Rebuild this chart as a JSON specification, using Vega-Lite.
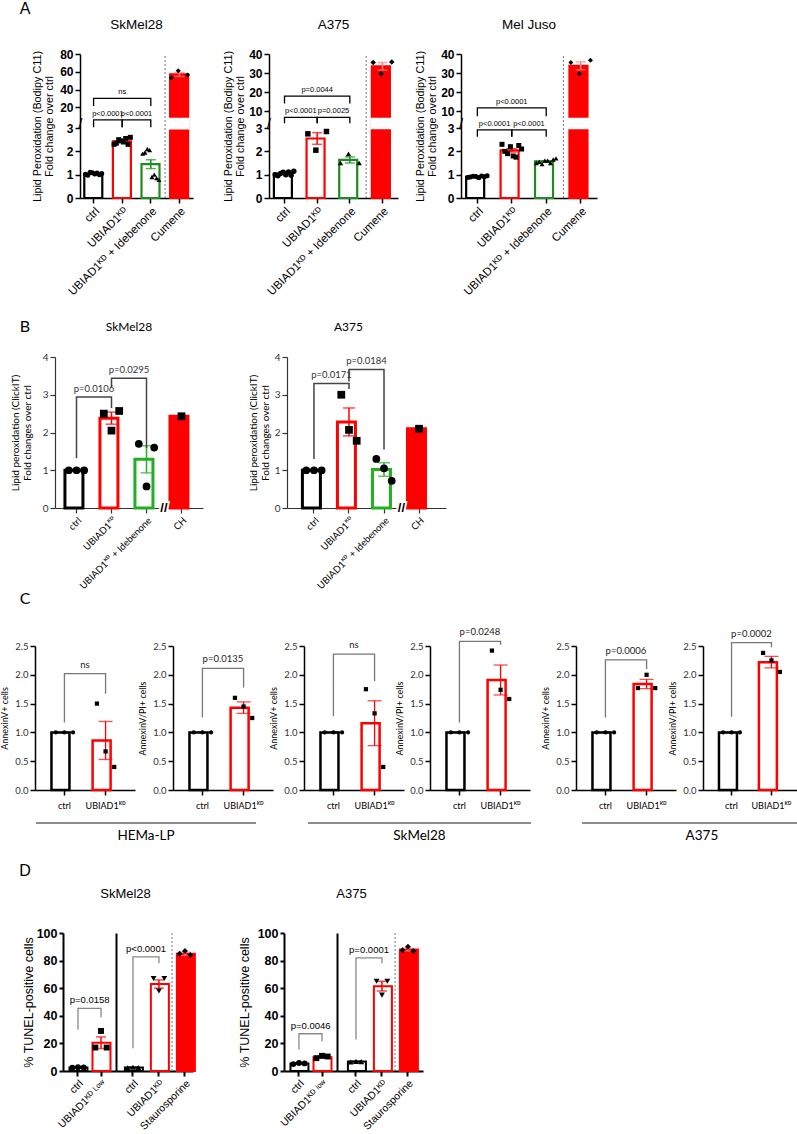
{
"$schema":"https://vega.github.io/schema/vega-lite/v6.json",
"background":"#ffffff",
"padding":0,
"autosize":{"type":"pad"},
"config":{"view":{"stroke":null},"axis":{"grid":false,"labelOverlap":false},"font":"Liberation Sans"},
"datasets":{
"bars":[
{"p":"A1","g":"ctrl","m":1.04,"se":0.02},{"p":"A1","g":"KD","m":2.43,"se":0.04},{"p":"A1","g":"Ide","m":1.45,"se":0.19},{"p":"A1","g":"Cum","m":57,"se":2.3},
{"p":"A2","g":"ctrl","m":1.05,"se":0.03},{"p":"A2","g":"KD","m":2.55,"se":0.25},{"p":"A2","g":"Ide","m":1.63,"se":0.13},{"p":"A2","g":"Cum","m":33.5,"se":2.0},
{"p":"A3","g":"ctrl","m":0.91,"se":0.02},{"p":"A3","g":"KD","m":2.04,"se":0.07},{"p":"A3","g":"Ide","m":1.57,"se":0.03},{"p":"A3","g":"Cum","m":33.8,"se":2.1},
{"p":"B1","g":"ctrl","m":1.0,"se":0},{"p":"B1","g":"KD","m":2.38,"se":0.16},{"p":"B1","g":"Ide","m":1.29,"se":0.36},{"p":"B1","g":"CH","m":2.43,"se":0},
{"p":"B2","g":"ctrl","m":1.0,"se":0},{"p":"B2","g":"KD","m":2.28,"se":0.37},{"p":"B2","g":"Ide","m":1.02,"se":0.18},{"p":"B2","g":"CH","m":2.1,"se":0},
{"p":"C1","g":"ctrl","m":1.0,"se":0},{"p":"C1","g":"KD","m":0.86,"se":0.33},
{"p":"C2","g":"ctrl","m":1.0,"se":0},{"p":"C2","g":"KD","m":1.43,"se":0.1},
{"p":"C3","g":"ctrl","m":1.0,"se":0},{"p":"C3","g":"KD","m":1.16,"se":0.39},
{"p":"C4","g":"ctrl","m":1.0,"se":0},{"p":"C4","g":"KD","m":1.91,"se":0.26},
{"p":"C5","g":"ctrl","m":1.0,"se":0},{"p":"C5","g":"KD","m":1.84,"se":0.08},
{"p":"C6","g":"ctrl","m":1.0,"se":0},{"p":"C6","g":"KD","m":2.22,"se":0.1},
{"p":"D1L","g":"ctrl","m":2.5,"se":0.3},{"p":"D1L","g":"KDlow","m":20.5,"se":4.2},
{"p":"D1R","g":"ctrl","m":2.5,"se":0.3},{"p":"D1R","g":"KD","m":63,"se":3},{"p":"D1R","g":"Stau","m":85,"se":1.2},
{"p":"D2L","g":"ctrl","m":5.5,"se":0.3},{"p":"D2L","g":"KDlow","m":10,"se":0.6},
{"p":"D2R","g":"ctrl","m":6.8,"se":0.3},{"p":"D2R","g":"KD","m":61.5,"se":3.5},{"p":"D2R","g":"Stau","m":88,"se":0.9}
],
"pts":[
{"p":"A1","g":"ctrl","r":1,"v":1.02},{"p":"A1","g":"ctrl","r":2,"v":1.08},{"p":"A1","g":"ctrl","r":3,"v":1.05},{"p":"A1","g":"ctrl","r":4,"v":0.98},{"p":"A1","g":"ctrl","r":5,"v":1.1},{"p":"A1","g":"ctrl","r":6,"v":1.03},{"p":"A1","g":"ctrl","r":7,"v":1.07},{"p":"A1","g":"ctrl","r":8,"v":1.0},
{"p":"A1","g":"KD","r":1,"v":2.3},{"p":"A1","g":"KD","r":2,"v":2.45},{"p":"A1","g":"KD","r":3,"v":2.6},{"p":"A1","g":"KD","r":4,"v":2.35},{"p":"A1","g":"KD","r":5,"v":2.5},{"p":"A1","g":"KD","r":6,"v":2.4},{"p":"A1","g":"KD","r":7,"v":2.55},{"p":"A1","g":"KD","r":8,"v":2.3},
{"p":"A1","g":"Ide","r":1,"v":1.9},{"p":"A1","g":"Ide","r":2,"v":2.05},{"p":"A1","g":"Ide","r":3,"v":0.78},{"p":"A1","g":"Ide","r":4,"v":1.95},{"p":"A1","g":"Ide","r":5,"v":2.1},{"p":"A1","g":"Ide","r":6,"v":0.9},{"p":"A1","g":"Ide","r":7,"v":1.0},{"p":"A1","g":"Ide","r":8,"v":0.85},
{"p":"A1","g":"Cum","r":1,"v":53.3},{"p":"A1","g":"Cum","r":2,"v":61.2},{"p":"A1","g":"Cum","r":3,"v":56.4},
{"p":"A2","g":"ctrl","r":1,"v":1.0},{"p":"A2","g":"ctrl","r":2,"v":1.1},{"p":"A2","g":"ctrl","r":3,"v":1.15},{"p":"A2","g":"ctrl","r":4,"v":0.95},{"p":"A2","g":"ctrl","r":5,"v":1.05},{"p":"A2","g":"ctrl","r":6,"v":1.0},{"p":"A2","g":"ctrl","r":7,"v":1.12},{"p":"A2","g":"ctrl","r":8,"v":0.98},
{"p":"A2","g":"KD","r":1,"v":2.75},{"p":"A2","g":"KD","r":2,"v":2.05},{"p":"A2","g":"KD","r":3,"v":2.85},
{"p":"A2","g":"Ide","r":1,"v":1.5},{"p":"A2","g":"Ide","r":2,"v":1.89},{"p":"A2","g":"Ide","r":3,"v":1.5},
{"p":"A2","g":"Cum","r":1,"v":35.5},{"p":"A2","g":"Cum","r":2,"v":29.6},{"p":"A2","g":"Cum","r":3,"v":35.8},
{"p":"A3","g":"ctrl","r":1,"v":0.88},{"p":"A3","g":"ctrl","r":2,"v":0.92},{"p":"A3","g":"ctrl","r":3,"v":0.95},{"p":"A3","g":"ctrl","r":4,"v":0.9},{"p":"A3","g":"ctrl","r":5,"v":0.93},{"p":"A3","g":"ctrl","r":6,"v":0.87},{"p":"A3","g":"ctrl","r":7,"v":0.94},{"p":"A3","g":"ctrl","r":8,"v":0.91},
{"p":"A3","g":"KD","r":1,"v":2.3},{"p":"A3","g":"KD","r":2,"v":2.2},{"p":"A3","g":"KD","r":3,"v":2.1},{"p":"A3","g":"KD","r":4,"v":2.0},{"p":"A3","g":"KD","r":5,"v":1.9},{"p":"A3","g":"KD","r":6,"v":1.8},{"p":"A3","g":"KD","r":7,"v":1.75},{"p":"A3","g":"KD","r":8,"v":2.25},
{"p":"A3","g":"Ide","r":1,"v":1.5},{"p":"A3","g":"Ide","r":2,"v":1.6},{"p":"A3","g":"Ide","r":3,"v":1.7},{"p":"A3","g":"Ide","r":4,"v":1.55},{"p":"A3","g":"Ide","r":5,"v":1.45},{"p":"A3","g":"Ide","r":6,"v":1.6},{"p":"A3","g":"Ide","r":7,"v":1.5},{"p":"A3","g":"Ide","r":8,"v":1.65},
{"p":"A3","g":"Cum","r":1,"v":35.5},{"p":"A3","g":"Cum","r":2,"v":29.6},{"p":"A3","g":"Cum","r":3,"v":36.7},
{"p":"B1","g":"ctrl","r":1,"v":1},{"p":"B1","g":"ctrl","r":2,"v":1},{"p":"B1","g":"ctrl","r":3,"v":1},
{"p":"B1","g":"KD","r":1,"v":2.5},{"p":"B1","g":"KD","r":2,"v":2.05},{"p":"B1","g":"KD","r":3,"v":2.57},
{"p":"B1","g":"Ide","r":1,"v":1.7},{"p":"B1","g":"Ide","r":2,"v":0.57},{"p":"B1","g":"Ide","r":3,"v":1.6},
{"p":"B1","g":"CH","r":2,"v":2.43},
{"p":"B2","g":"ctrl","r":1,"v":1},{"p":"B2","g":"ctrl","r":2,"v":1},{"p":"B2","g":"ctrl","r":3,"v":1},
{"p":"B2","g":"KD","r":1,"v":3.0},{"p":"B2","g":"KD","r":2,"v":2.07},{"p":"B2","g":"KD","r":3,"v":1.78},
{"p":"B2","g":"Ide","r":1,"v":1.3},{"p":"B2","g":"Ide","r":2,"v":1.05},{"p":"B2","g":"Ide","r":3,"v":0.72},
{"p":"B2","g":"CH","r":2,"v":2.1},
{"p":"C1","g":"ctrl","r":1,"v":1},{"p":"C1","g":"ctrl","r":2,"v":1},{"p":"C1","g":"ctrl","r":3,"v":1},{"p":"C1","g":"KD","r":1,"v":1.5},{"p":"C1","g":"KD","r":2,"v":0.67},{"p":"C1","g":"KD","r":3,"v":0.4},
{"p":"C2","g":"ctrl","r":1,"v":1},{"p":"C2","g":"ctrl","r":2,"v":1},{"p":"C2","g":"ctrl","r":3,"v":1},{"p":"C2","g":"KD","r":1,"v":1.6},{"p":"C2","g":"KD","r":2,"v":1.45},{"p":"C2","g":"KD","r":3,"v":1.25},
{"p":"C3","g":"ctrl","r":1,"v":1},{"p":"C3","g":"ctrl","r":2,"v":1},{"p":"C3","g":"ctrl","r":3,"v":1},{"p":"C3","g":"KD","r":1,"v":1.75},{"p":"C3","g":"KD","r":2,"v":1.33},{"p":"C3","g":"KD","r":3,"v":0.4},
{"p":"C4","g":"ctrl","r":1,"v":1},{"p":"C4","g":"ctrl","r":2,"v":1},{"p":"C4","g":"ctrl","r":3,"v":1},{"p":"C4","g":"KD","r":1,"v":2.42},{"p":"C4","g":"KD","r":2,"v":1.74},{"p":"C4","g":"KD","r":3,"v":1.58},
{"p":"C5","g":"ctrl","r":1,"v":1},{"p":"C5","g":"ctrl","r":2,"v":1},{"p":"C5","g":"ctrl","r":3,"v":1},{"p":"C5","g":"KD","r":1,"v":1.77},{"p":"C5","g":"KD","r":2,"v":2.0},{"p":"C5","g":"KD","r":3,"v":1.77},
{"p":"C6","g":"ctrl","r":1,"v":1},{"p":"C6","g":"ctrl","r":2,"v":1},{"p":"C6","g":"ctrl","r":3,"v":1},{"p":"C6","g":"KD","r":1,"v":2.38},{"p":"C6","g":"KD","r":2,"v":2.25},{"p":"C6","g":"KD","r":3,"v":2.05},
{"p":"D1L","g":"ctrl","r":1,"v":2.3},{"p":"D1L","g":"ctrl","r":2,"v":2.8},{"p":"D1L","g":"ctrl","r":3,"v":2.5},{"p":"D1L","g":"KDlow","r":1,"v":17},{"p":"D1L","g":"KDlow","r":2,"v":29},{"p":"D1L","g":"KDlow","r":3,"v":17},
{"p":"D1R","g":"ctrl","r":1,"v":2.3},{"p":"D1R","g":"ctrl","r":2,"v":2.7},{"p":"D1R","g":"ctrl","r":3,"v":2.5},{"p":"D1R","g":"KD","r":1,"v":67},{"p":"D1R","g":"KD","r":2,"v":58},{"p":"D1R","g":"KD","r":3,"v":67},{"p":"D1R","g":"Stau","r":1,"v":85},{"p":"D1R","g":"Stau","r":2,"v":87},{"p":"D1R","g":"Stau","r":3,"v":84},
{"p":"D2L","g":"ctrl","r":1,"v":5.0},{"p":"D2L","g":"ctrl","r":2,"v":5.8},{"p":"D2L","g":"ctrl","r":3,"v":5.5},{"p":"D2L","g":"KDlow","r":1,"v":9.3},{"p":"D2L","g":"KDlow","r":2,"v":11},{"p":"D2L","g":"KDlow","r":3,"v":10.5},
{"p":"D2R","g":"ctrl","r":1,"v":6.5},{"p":"D2R","g":"ctrl","r":2,"v":7.0},{"p":"D2R","g":"ctrl","r":3,"v":6.8},{"p":"D2R","g":"KD","r":1,"v":65},{"p":"D2R","g":"KD","r":2,"v":55},{"p":"D2R","g":"KD","r":3,"v":65},{"p":"D2R","g":"Stau","r":1,"v":87.5},{"p":"D2R","g":"Stau","r":2,"v":90},{"p":"D2R","g":"Stau","r":3,"v":87}
],
"br":[
{"p":"A1","k":1,"x":"ctrl","y":3.3,"o":0},{"p":"A1","k":1,"x":"ctrl","y":6.4,"o":1},{"p":"A1","k":1,"x":"KD","y":6.4,"o":2},{"p":"A1","k":1,"x":"KD","y":3.3,"o":3},
{"p":"A1","k":2,"x":"KD","y":3.3,"o":0},{"p":"A1","k":2,"x":"KD","y":6.4,"o":1},{"p":"A1","k":2,"x":"Ide","y":6.4,"o":2},{"p":"A1","k":2,"x":"Ide","y":3.3,"o":3},
{"p":"A1","k":3,"x":"ctrl","y":21.4,"o":0},{"p":"A1","k":3,"x":"ctrl","y":30.1,"o":1},{"p":"A1","k":3,"x":"Ide","y":30.1,"o":2},{"p":"A1","k":3,"x":"Ide","y":21.4,"o":3},
{"p":"A2","k":1,"x":"ctrl","y":4.5,"o":0},{"p":"A2","k":1,"x":"ctrl","y":6.7,"o":1},{"p":"A2","k":1,"x":"KD","y":6.7,"o":2},{"p":"A2","k":1,"x":"KD","y":4.5,"o":3},
{"p":"A2","k":2,"x":"KD","y":4.5,"o":0},{"p":"A2","k":2,"x":"KD","y":6.7,"o":1},{"p":"A2","k":2,"x":"Ide","y":6.7,"o":2},{"p":"A2","k":2,"x":"Ide","y":4.5,"o":3},
{"p":"A2","k":3,"x":"ctrl","y":14,"o":0},{"p":"A2","k":3,"x":"ctrl","y":17.8,"o":1},{"p":"A2","k":3,"x":"Ide","y":17.8,"o":2},{"p":"A2","k":3,"x":"Ide","y":14,"o":3},
{"p":"A3","k":1,"x":"ctrl","y":2.63,"o":0},{"p":"A3","k":1,"x":"ctrl","y":2.92,"o":1},{"p":"A3","k":1,"x":"KD","y":2.92,"o":2},{"p":"A3","k":1,"x":"KD","y":2.63,"o":3},
{"p":"A3","k":2,"x":"KD","y":2.63,"o":0},{"p":"A3","k":2,"x":"KD","y":2.92,"o":1},{"p":"A3","k":2,"x":"Ide","y":2.92,"o":2},{"p":"A3","k":2,"x":"Ide","y":2.63,"o":3},
{"p":"A3","k":3,"x":"ctrl","y":7.3,"o":0},{"p":"A3","k":3,"x":"ctrl","y":11.7,"o":1},{"p":"A3","k":3,"x":"Ide","y":11.7,"o":2},{"p":"A3","k":3,"x":"Ide","y":7.3,"o":3},
{"p":"B1","k":1,"x":"ctrl","y":1.32,"o":0},{"p":"B1","k":1,"x":"ctrl","y":2.94,"o":1},{"p":"B1","k":1,"x":"KD","y":2.94,"o":2},{"p":"B1","k":1,"x":"KD","y":2.65,"o":3},
{"p":"B1","k":2,"x":"KD","y":3.2,"o":0},{"p":"B1","k":2,"x":"KD","y":3.44,"o":1},{"p":"B1","k":2,"x":"Ide","y":3.44,"o":2},{"p":"B1","k":2,"x":"Ide","y":1.59,"o":3},
{"p":"B2","k":1,"x":"ctrl","y":1.3,"o":0},{"p":"B2","k":1,"x":"ctrl","y":3.3,"o":1},{"p":"B2","k":1,"x":"KD","y":3.3,"o":2},{"p":"B2","k":1,"x":"KD","y":3.15,"o":3},
{"p":"B2","k":2,"x":"KD","y":3.35,"o":0},{"p":"B2","k":2,"x":"KD","y":3.67,"o":1},{"p":"B2","k":2,"x":"Ide","y":3.67,"o":2},{"p":"B2","k":2,"x":"Ide","y":1.55,"o":3},
{"p":"C1","k":1,"x":"ctrl","y":1.17,"o":0},{"p":"C1","k":1,"x":"ctrl","y":2.02,"o":1},{"p":"C1","k":1,"x":"KD","y":2.02,"o":2},{"p":"C1","k":1,"x":"KD","y":1.67,"o":3},
{"p":"C2","k":1,"x":"ctrl","y":1.26,"o":0},{"p":"C2","k":1,"x":"ctrl","y":2.11,"o":1},{"p":"C2","k":1,"x":"KD","y":2.11,"o":2},{"p":"C2","k":1,"x":"KD","y":1.78,"o":3},
{"p":"C3","k":1,"x":"ctrl","y":1.28,"o":0},{"p":"C3","k":1,"x":"ctrl","y":2.36,"o":1},{"p":"C3","k":1,"x":"KD","y":2.36,"o":2},{"p":"C3","k":1,"x":"KD","y":1.89,"o":3},
{"p":"C4","k":1,"x":"ctrl","y":1.17,"o":0},{"p":"C4","k":1,"x":"ctrl","y":2.58,"o":1},{"p":"C4","k":1,"x":"KD","y":2.58,"o":2},{"p":"C4","k":1,"x":"KD","y":2.52,"o":3},
{"p":"C5","k":1,"x":"ctrl","y":1.26,"o":0},{"p":"C5","k":1,"x":"ctrl","y":2.26,"o":1},{"p":"C5","k":1,"x":"KD","y":2.26,"o":2},{"p":"C5","k":1,"x":"KD","y":2.1,"o":3},
{"p":"C6","k":1,"x":"ctrl","y":1.27,"o":0},{"p":"C6","k":1,"x":"ctrl","y":2.56,"o":1},{"p":"C6","k":1,"x":"KD","y":2.56,"o":2},{"p":"C6","k":1,"x":"KD","y":2.48,"o":3},
{"p":"D1L","k":1,"x":"ctrl","y":30,"o":0},{"p":"D1L","k":1,"x":"ctrl","y":45.4,"o":1},{"p":"D1L","k":1,"x":"KDlow","y":45.4,"o":2},{"p":"D1L","k":1,"x":"KDlow","y":39,"o":3},
{"p":"D1R","k":1,"x":"ctrl","y":16.4,"o":0},{"p":"D1R","k":1,"x":"ctrl","y":82.7,"o":1},{"p":"D1R","k":1,"x":"KD","y":82.7,"o":2},{"p":"D1R","k":1,"x":"KD","y":78,"o":3},
{"p":"D2L","k":1,"x":"ctrl","y":15.6,"o":0},{"p":"D2L","k":1,"x":"ctrl","y":27,"o":1},{"p":"D2L","k":1,"x":"KDlow","y":27,"o":2},{"p":"D2L","k":1,"x":"KDlow","y":21.6,"o":3},
{"p":"D2R","k":1,"x":"ctrl","y":22.8,"o":0},{"p":"D2R","k":1,"x":"ctrl","y":82,"o":1},{"p":"D2R","k":1,"x":"KD","y":82,"o":2},{"p":"D2R","k":1,"x":"KD","y":78,"o":3}
],
"tx":[
{"p":"A1","x":"ctrl","y":6.4,"t":"p<0.0001","w":0},{"p":"A1","x":"KD","y":6.4,"t":"p<0.0001","w":0},{"p":"A1","x":"KD","y":30.1,"t":"ns","w":1},
{"p":"A2","x":"ctrl","y":6.7,"t":"p<0.0001","w":0},{"p":"A2","x":"KD","y":6.7,"t":"p=0.0025","w":0},{"p":"A2","x":"KD","y":17.8,"t":"p=0.0044","w":1},
{"p":"A3","x":"ctrl","y":2.92,"t":"p<0.0001","w":0},{"p":"A3","x":"KD","y":2.92,"t":"p<0.0001","w":0},{"p":"A3","x":"KD","y":11.7,"t":"p<0.0001","w":1},
{"p":"B1","x":"ctrl","y":2.94,"t":"p=0.0106","w":0},{"p":"B1","x":"KD","y":3.44,"t":"p=0.0295","w":0},
{"p":"B2","x":"ctrl","y":3.3,"t":"p=0.0171","w":0},{"p":"B2","x":"KD","y":3.67,"t":"p=0.0184","w":0},
{"p":"C1","x":"ctrl","y":2.02,"t":"ns","w":0},{"p":"C2","x":"ctrl","y":2.11,"t":"p=0.0135","w":0},{"p":"C3","x":"ctrl","y":2.36,"t":"ns","w":0},
{"p":"C4","x":"ctrl","y":2.58,"t":"p=0.0248","w":0},{"p":"C5","x":"ctrl","y":2.26,"t":"p=0.0006","w":0},{"p":"C6","x":"ctrl","y":2.56,"t":"p=0.0002","w":0},
{"p":"D1L","x":"ctrl","y":45.4,"t":"p=0.0158","w":0},{"p":"D1R","x":"ctrl","y":82.7,"t":"p<0.0001","w":0},
{"p":"D2L","x":"ctrl","y":27,"t":"p=0.0046","w":0},{"p":"D2R","x":"ctrl","y":82,"t":"p=0.0001","w":0}
]
},
"spacing":0,
"bounds":"flush",
"resolve":{"scale":{"fill":"independent","stroke":"independent","color":"independent","shape":"independent","xOffset":"independent"}},
"vconcat":[
{"width":44,"height":17,"data":{"values":[{"t":"A"}]},"mark":{"type":"text","fontSize":16,"font":"Liberation Sans","color":"#000"},"encoding":{"text":{"field":"t"}}},
{"width":1,"height":37,"data":{"values":[]},"mark":"point"},
{"spacing":0,"bounds":"flush","resolve":{"scale":{"fill":"independent","stroke":"independent","color":"independent","shape":"independent","xOffset":"independent"}},"hconcat":[
{"width":77,"height":1,"data":{"values":[]},"mark":"point"},
{"width":113,"height":144,
"title":{"text":"SkMel28","font":"Liberation Sans","fontSize":13.5,"fontWeight":"normal","color":"#000","frame":"group","offset":17},
"layer":[
{"data":{"name":"bars"},"transform":[{"filter":"datum.p=='A1'"}],"mark":{"type":"bar","strokeWidth":2.2},
"encoding":{
"x":{"field":"g","type":"nominal","scale":{"domain":["ctrl","KD","Ide","Cum"],"paddingInner":0.35,"paddingOuter":0.15},"axis":{"title":null,"labelAngle":-45,"labelFont":"Liberation Sans","labelFontSize":11.5,"labelColor":"#000","domainColor":"#000","domainWidth":1.5,"tickColor":"#000","tickWidth":1.5,"tickSize":5,"labelPadding":2,"labelExpr":"datum.value=='KD'?'UBIAD1ᴷᴰ':datum.value=='Ide'?'UBIAD1ᴷᴰ + Idebenone':datum.value=='Cum'?'Cumene':datum.value"}},
"y":{"field":"m","type":"quantitative","scale":{"domain":[0,3,6.8,80],"range":[144,74,65,0],"nice":false,"zero":false},"axis":{"title":["Lipid Peroxidation (Bodipy C11)","Fold change over ctrl"],"titleFont":"Liberation Sans","titleFontSize":10.8,"titleFontWeight":"normal","titleColor":"#000","titleLineHeight":12,"titlePadding":5,"values":[0,1,2,3,20,40,60,80],"tickCount":20,"format":"d","labelFont":"Liberation Sans","labelFontSize":12,"labelFontWeight":"bold","labelColor":"#000","labelOverlap":false,"labelPadding":2,"domainColor":"#000","domainWidth":1.5,"tickColor":"#000","tickWidth":1.5,"tickSize":5}},
"fill":{"field":"g","type":"nominal","scale":{"domain":["ctrl","KD","Ide","Cum"],"range":["#ffffff","#ffffff","#ffffff","#ff0000"]},"legend":null},
"stroke":{"field":"g","type":"nominal","scale":{"domain":["ctrl","KD","Ide","Cum"],"range":["#000000","#ff0000","#1e8c1e","#ff0000"]},"legend":null}}},
{"data":{"values":[{}]},"mark":{"type":"bar","fill":"#ffffff","stroke":"#ffffff","strokeWidth":3},"encoding":{"x":{"datum":"Cum","type":"nominal"},"y":{"datum":3.05,"type":"quantitative"},"y2":{"datum":6.7}}},
{"data":{"values":[{}]},"mark":{"type":"rule","strokeDash":[2,2],"color":"#777777","strokeWidth":1},"encoding":{"x":{"datum":"Cum","type":"nominal","bandPosition":-0.27},"y":{"datum":0,"type":"quantitative"},"y2":{"datum":80}}},
{"data":{"name":"bars"},"transform":[{"filter":"datum.p=='A1'"}],"mark":{"type":"errorbar","ticks":true,"size":10,"thickness":1.5},"encoding":{"x":{"field":"g","type":"nominal","title":null},"y":{"field":"m","type":"quantitative","title":["Lipid Peroxidation (Bodipy C11)","Fold change over ctrl"]},"yError":{"field":"se"},"color":{"field":"g","type":"nominal","scale":{"domain":["ctrl","KD","Ide","Cum"],"range":["#000000","#ff0000","#1e8c1e","#ff8080"]},"legend":null}}},
{"data":{"name":"pts"},"transform":[{"filter":"datum.p=='A1'"}],"mark":{"type":"point","filled":true,"color":"#000","opacity":1,"size":25},"encoding":{"x":{"field":"g","type":"nominal","title":null},"xOffset":{"field":"r","type":"nominal","scale":{"domain":[1,4,5,2,6,7,8,3]}},"y":{"field":"v","type":"quantitative"},"shape":{"field":"g","type":"nominal","scale":{"domain":["ctrl","KD","Ide","Cum"],"range":["circle","square","triangle-up","diamond"]},"legend":null}}},
{"data":{"name":"br"},"transform":[{"filter":"datum.p=='A1'"}],"mark":{"type":"line","color":"#000","strokeWidth":1.3},"encoding":{"x":{"field":"x","type":"nominal","title":null},"y":{"field":"y","type":"quantitative"},"detail":{"field":"k","type":"nominal"},"order":{"field":"o","type":"quantitative"}}},
{"data":{"name":"tx"},"transform":[{"filter":"datum.p=='A1' && datum.w==0"}],"mark":{"type":"text","baseline":"bottom","dy":-2,"font":"Liberation Sans","fontSize":7.5,"color":"#000"},"encoding":{"x":{"field":"x","type":"nominal","title":null,"bandPosition":1.27},"y":{"field":"y","type":"quantitative"},"text":{"field":"t"}}},
{"data":{"name":"tx"},"transform":[{"filter":"datum.p=='A1' && datum.w==1"}],"mark":{"type":"text","baseline":"bottom","dy":-2,"font":"Liberation Sans","fontSize":7.5,"color":"#000"},"encoding":{"x":{"field":"x","type":"nominal","title":null},"y":{"field":"y","type":"quantitative"},"text":{"field":"t"}}},
{"data":{"values":[{}]},"mark":{"type":"text","text":"/","fontSize":15,"dx":-4,"color":"#000"},"encoding":{"x":{"datum":"ctrl","type":"nominal","bandPosition":0},"y":{"datum":4.9,"type":"quantitative"}}}
]},
{"width":76,"height":1,"data":{"values":[]},"mark":"point"},
{"width":129,"height":144,
"title":{"text":"A375","font":"Liberation Sans","fontSize":13.5,"fontWeight":"normal","color":"#000","frame":"group","offset":17},
"layer":[
{"data":{"name":"bars"},"transform":[{"filter":"datum.p=='A2'"}],"mark":{"type":"bar","strokeWidth":2.2},
"encoding":{
"x":{"field":"g","type":"nominal","scale":{"domain":["ctrl","KD","Ide","Cum"],"paddingInner":0.35,"paddingOuter":0.15},"axis":{"title":null,"labelAngle":-45,"labelFont":"Liberation Sans","labelFontSize":11.5,"labelColor":"#000","domainColor":"#000","domainWidth":1.5,"tickColor":"#000","tickWidth":1.5,"tickSize":5,"labelPadding":2,"labelExpr":"datum.value=='KD'?'UBIAD1ᴷᴰ':datum.value=='Ide'?'UBIAD1ᴷᴰ + Idebenone':datum.value=='Cum'?'Cumene':datum.value"}},
"y":{"field":"m","type":"quantitative","scale":{"domain":[0,3,5.8,40],"range":[144,74,65,0],"nice":false,"zero":false},"axis":{"title":["Lipid Peroxidation (Bodipy C11)","Fold change over ctrl"],"titleFont":"Liberation Sans","titleFontSize":10.8,"titleFontWeight":"normal","titleColor":"#000","titleLineHeight":12,"titlePadding":3,"values":[0,1,2,3,10,20,30,40],"tickCount":20,"format":"d","labelFont":"Liberation Sans","labelFontSize":12,"labelFontWeight":"bold","labelColor":"#000","labelOverlap":false,"labelPadding":2,"domainColor":"#000","domainWidth":1.5,"tickColor":"#000","tickWidth":1.5,"tickSize":5}},
"fill":{"field":"g","type":"nominal","scale":{"domain":["ctrl","KD","Ide","Cum"],"range":["#ffffff","#ffffff","#ffffff","#ff0000"]},"legend":null},
"stroke":{"field":"g","type":"nominal","scale":{"domain":["ctrl","KD","Ide","Cum"],"range":["#000000","#ff0000","#1e8c1e","#ff0000"]},"legend":null}}},
{"data":{"values":[{}]},"mark":{"type":"bar","fill":"#ffffff","stroke":"#ffffff","strokeWidth":3},"encoding":{"x":{"datum":"Cum","type":"nominal"},"y":{"datum":3.05,"type":"quantitative"},"y2":{"datum":5.7}}},
{"data":{"values":[{}]},"mark":{"type":"rule","strokeDash":[2,2],"color":"#777777","strokeWidth":1},"encoding":{"x":{"datum":"Cum","type":"nominal","bandPosition":-0.27},"y":{"datum":0,"type":"quantitative"},"y2":{"datum":40}}},
{"data":{"name":"bars"},"transform":[{"filter":"datum.p=='A2'"}],"mark":{"type":"errorbar","ticks":true,"size":10,"thickness":1.5},"encoding":{"x":{"field":"g","type":"nominal","title":null},"y":{"field":"m","type":"quantitative","title":["Lipid Peroxidation (Bodipy C11)","Fold change over ctrl"]},"yError":{"field":"se"},"color":{"field":"g","type":"nominal","scale":{"domain":["ctrl","KD","Ide","Cum"],"range":["#000000","#ff0000","#1e8c1e","#ff8080"]},"legend":null}}},
{"data":{"name":"pts"},"transform":[{"filter":"datum.p=='A2'"}],"mark":{"type":"point","filled":true,"color":"#000","opacity":1,"size":30},"encoding":{"x":{"field":"g","type":"nominal","title":null},"xOffset":{"field":"r","type":"nominal","scale":{"domain":[1,4,5,2,6,7,8,3]}},"y":{"field":"v","type":"quantitative"},"shape":{"field":"g","type":"nominal","scale":{"domain":["ctrl","KD","Ide","Cum"],"range":["circle","square","triangle-up","diamond"]},"legend":null}}},
{"data":{"name":"br"},"transform":[{"filter":"datum.p=='A2'"}],"mark":{"type":"line","color":"#000","strokeWidth":1.3},"encoding":{"x":{"field":"x","type":"nominal","title":null},"y":{"field":"y","type":"quantitative"},"detail":{"field":"k","type":"nominal"},"order":{"field":"o","type":"quantitative"}}},
{"data":{"name":"tx"},"transform":[{"filter":"datum.p=='A2' && datum.w==0"}],"mark":{"type":"text","baseline":"bottom","dy":-2,"font":"Liberation Sans","fontSize":7.5,"color":"#000"},"encoding":{"x":{"field":"x","type":"nominal","title":null,"bandPosition":1.27},"y":{"field":"y","type":"quantitative"},"text":{"field":"t"}}},
{"data":{"name":"tx"},"transform":[{"filter":"datum.p=='A2' && datum.w==1"}],"mark":{"type":"text","baseline":"bottom","dy":-2,"font":"Liberation Sans","fontSize":7.5,"color":"#000"},"encoding":{"x":{"field":"x","type":"nominal","title":null},"y":{"field":"y","type":"quantitative"},"text":{"field":"t"}}},
{"data":{"values":[{}]},"mark":{"type":"text","text":"/","fontSize":15,"dx":-5,"color":"#000"},"encoding":{"x":{"datum":"ctrl","type":"nominal","bandPosition":0},"y":{"datum":4.4,"type":"quantitative"}}}
]},
{"width":63,"height":1,"data":{"values":[]},"mark":"point"},
{"width":136,"height":144,
"title":{"text":"Mel Juso","font":"Liberation Sans","fontSize":13.5,"fontWeight":"normal","color":"#000","frame":"group","offset":17},
"layer":[
{"data":{"name":"bars"},"transform":[{"filter":"datum.p=='A3'"}],"mark":{"type":"bar","strokeWidth":2.2},
"encoding":{
"x":{"field":"g","type":"nominal","scale":{"domain":["ctrl","KD","Ide","Cum"],"paddingInner":0.35,"paddingOuter":0.15},"axis":{"title":null,"labelAngle":-45,"labelFont":"Liberation Sans","labelFontSize":11.5,"labelColor":"#000","domainColor":"#000","domainWidth":1.5,"tickColor":"#000","tickWidth":1.5,"tickSize":5,"labelPadding":2,"labelExpr":"datum.value=='KD'?'UBIAD1ᴷᴰ':datum.value=='Ide'?'UBIAD1ᴷᴰ + Idebenone':datum.value=='Cum'?'Cumene':datum.value"}},
"y":{"field":"m","type":"quantitative","scale":{"domain":[0,3,5.8,40],"range":[144,74,65,0],"nice":false,"zero":false},"axis":{"title":["Lipid Peroxidation (Bodipy C11)","Fold change over ctrl"],"titleFont":"Liberation Sans","titleFontSize":10.8,"titleFontWeight":"normal","titleColor":"#000","titleLineHeight":12,"titlePadding":3,"values":[0,1,2,3,10,20,30,40],"tickCount":20,"format":"d","labelFont":"Liberation Sans","labelFontSize":12,"labelFontWeight":"bold","labelColor":"#000","labelOverlap":false,"labelPadding":2,"domainColor":"#000","domainWidth":1.5,"tickColor":"#000","tickWidth":1.5,"tickSize":5}},
"fill":{"field":"g","type":"nominal","scale":{"domain":["ctrl","KD","Ide","Cum"],"range":["#ffffff","#ffffff","#ffffff","#ff0000"]},"legend":null},
"stroke":{"field":"g","type":"nominal","scale":{"domain":["ctrl","KD","Ide","Cum"],"range":["#000000","#ff0000","#1e8c1e","#ff0000"]},"legend":null}}},
{"data":{"values":[{}]},"mark":{"type":"bar","fill":"#ffffff","stroke":"#ffffff","strokeWidth":3},"encoding":{"x":{"datum":"Cum","type":"nominal"},"y":{"datum":3.05,"type":"quantitative"},"y2":{"datum":5.7}}},
{"data":{"values":[{}]},"mark":{"type":"rule","strokeDash":[2,2],"color":"#777777","strokeWidth":1},"encoding":{"x":{"datum":"Cum","type":"nominal","bandPosition":-0.27},"y":{"datum":0,"type":"quantitative"},"y2":{"datum":40}}},
{"data":{"name":"bars"},"transform":[{"filter":"datum.p=='A3'"}],"mark":{"type":"errorbar","ticks":true,"size":10,"thickness":1.5},"encoding":{"x":{"field":"g","type":"nominal","title":null},"y":{"field":"m","type":"quantitative","title":["Lipid Peroxidation (Bodipy C11)","Fold change over ctrl"]},"yError":{"field":"se"},"color":{"field":"g","type":"nominal","scale":{"domain":["ctrl","KD","Ide","Cum"],"range":["#000000","#ff0000","#1e8c1e","#ff8080"]},"legend":null}}},
{"data":{"name":"pts"},"transform":[{"filter":"datum.p=='A3'"}],"mark":{"type":"point","filled":true,"color":"#000","opacity":1,"size":25},"encoding":{"x":{"field":"g","type":"nominal","title":null},"xOffset":{"field":"r","type":"nominal","scale":{"domain":[1,4,5,2,6,7,8,3]}},"y":{"field":"v","type":"quantitative"},"shape":{"field":"g","type":"nominal","scale":{"domain":["ctrl","KD","Ide","Cum"],"range":["circle","square","triangle-up","diamond"]},"legend":null}}},
{"data":{"name":"br"},"transform":[{"filter":"datum.p=='A3'"}],"mark":{"type":"line","color":"#000","strokeWidth":1.3},"encoding":{"x":{"field":"x","type":"nominal","title":null},"y":{"field":"y","type":"quantitative"},"detail":{"field":"k","type":"nominal"},"order":{"field":"o","type":"quantitative"}}},
{"data":{"name":"tx"},"transform":[{"filter":"datum.p=='A3' && datum.w==0"}],"mark":{"type":"text","baseline":"bottom","dy":-2,"font":"Liberation Sans","fontSize":7.5,"color":"#000"},"encoding":{"x":{"field":"x","type":"nominal","title":null,"bandPosition":1.27},"y":{"field":"y","type":"quantitative"},"text":{"field":"t"}}},
{"data":{"name":"tx"},"transform":[{"filter":"datum.p=='A3' && datum.w==1"}],"mark":{"type":"text","baseline":"bottom","dy":-2,"font":"Liberation Sans","fontSize":7.5,"color":"#000"},"encoding":{"x":{"field":"x","type":"nominal","title":null},"y":{"field":"y","type":"quantitative"},"text":{"field":"t"}}},
{"data":{"values":[{}]},"mark":{"type":"text","text":"/","fontSize":15,"dx":-5,"color":"#000"},"encoding":{"x":{"datum":"ctrl","type":"nominal","bandPosition":0},"y":{"datum":4.4,"type":"quantitative"}}}
]}
]},
{"width":1,"height":264,"data":{"values":[]},"mark":"point"},
{"width":44,"height":17,"data":{"values":[{"t":"B"}]},"mark":{"type":"text","fontSize":16,"font":"Lato","color":"#000"},"encoding":{"text":{"field":"t"}}},
{"width":1,"height":22,"data":{"values":[]},"mark":"point"},
{"spacing":0,"bounds":"flush","resolve":{"scale":{"fill":"independent","stroke":"independent","color":"independent","shape":"independent","xOffset":"independent"}},"hconcat":[
{"width":52,"height":1,"data":{"values":[]},"mark":"point"},
{"width":148,"height":151,
"title":{"text":"SkMel28","font":"Lato","fontSize":12,"fontWeight":"normal","color":"#000","frame":"group","offset":18},
"layer":[
{"data":{"name":"bars"},"transform":[{"filter":"datum.p=='B1'"}],"mark":{"type":"bar","strokeWidth":3},
"encoding":{
"x":{"field":"g","type":"nominal","scale":{"domain":["ctrl","KD","Ide","CH"],"paddingInner":0.34,"paddingOuter":0.284},"axis":{"title":null,"labelAngle":-45,"labelFont":"Lato","labelFontSize":9.5,"labelColor":"#000","domainColor":"#333","domainWidth":1.2,"tickColor":"#333","tickWidth":1.2,"tickSize":5,"labelPadding":2,"labelExpr":"datum.value=='KD'?'UBIAD1ᴷᴰ':datum.value=='Ide'?'UBIAD1ᴷᴰ + Idebenone':datum.value"}},
"y":{"field":"m","type":"quantitative","scale":{"domain":[0,4],"nice":false,"zero":false},"axis":{"title":["Lipid peroxidation  (ClickIT)","Fold changes over ctrl"],"titleFont":"Lato","titleFontSize":10,"titleFontWeight":"normal","titleColor":"#000","titleLineHeight":12,"titlePadding":10,"values":[0,1,2,3,4],"tickCount":20,"format":"d","labelFont":"Lato","labelFontSize":10,"labelColor":"#333","labelOverlap":false,"labelPadding":2,"domainColor":"#333","domainWidth":1.2,"tickColor":"#333","tickWidth":1.2,"tickSize":5}},
"fill":{"field":"g","type":"nominal","scale":{"domain":["ctrl","KD","Ide","CH"],"range":["#ffffff","#ffffff","#ffffff","#ff0000"]},"legend":null},
"stroke":{"field":"g","type":"nominal","scale":{"domain":["ctrl","KD","Ide","CH"],"range":["#000000","#ff0000","#22b022","#ff0000"]},"legend":null}}},
{"data":{"name":"bars"},"transform":[{"filter":"datum.p=='B1'"}],"mark":{"type":"errorbar","ticks":true,"size":12,"thickness":1.5},"encoding":{"x":{"field":"g","type":"nominal","title":null},"y":{"field":"m","type":"quantitative","title":["Lipid peroxidation  (ClickIT)","Fold changes over ctrl"]},"yError":{"field":"se"},"color":{"field":"g","type":"nominal","scale":{"domain":["ctrl","KD","Ide","CH"],"range":["#000000","#ff0000","#22b022","#ff0000"]},"legend":null}}},
{"data":{"name":"pts"},"transform":[{"filter":"datum.p=='B1'"}],"mark":{"type":"point","filled":true,"color":"#000","opacity":1,"size":60},"encoding":{"x":{"field":"g","type":"nominal","title":null},"xOffset":{"field":"r","type":"nominal","scale":{"domain":[1,2,3]}},"y":{"field":"v","type":"quantitative"},"shape":{"field":"g","type":"nominal","scale":{"domain":["ctrl","KD","Ide","CH"],"range":["circle","square","circle","square"]},"legend":null}}},
{"data":{"name":"br"},"transform":[{"filter":"datum.p=='B1'"}],"mark":{"type":"line","color":"#444","strokeWidth":1.5},"encoding":{"x":{"field":"x","type":"nominal","title":null},"y":{"field":"y","type":"quantitative"},"detail":{"field":"k","type":"nominal"},"order":{"field":"o","type":"quantitative"}}},
{"data":{"name":"tx"},"transform":[{"filter":"datum.p=='B1'"}],"mark":{"type":"text","baseline":"bottom","dy":-3,"font":"Lato","fontSize":9.5,"color":"#333"},"encoding":{"x":{"field":"x","type":"nominal","title":null,"bandPosition":1.26},"y":{"field":"y","type":"quantitative"},"text":{"field":"t"}}},
{"data":{"values":[{}]},"mark":{"type":"text","text":"//","fontSize":13,"fontWeight":"bold","stroke":"#ffffff","strokeWidth":4,"color":"#ffffff"},"encoding":{"x":{"datum":"CH","type":"nominal","bandPosition":-0.26},"y":{"datum":0,"type":"quantitative"}}},
{"data":{"values":[{}]},"mark":{"type":"text","text":"//","fontSize":13,"fontWeight":"bold","color":"#000"},"encoding":{"x":{"datum":"CH","type":"nominal","bandPosition":-0.26},"y":{"datum":0,"type":"quantitative"}}}
]},
{"width":84,"height":1,"data":{"values":[]},"mark":"point"},
{"width":159,"height":151,
"title":{"text":"A375","font":"Lato","fontSize":12,"fontWeight":"normal","color":"#000","frame":"group","offset":18,"dx":-18},
"layer":[
{"data":{"name":"bars"},"transform":[{"filter":"datum.p=='B2'"}],"mark":{"type":"bar","strokeWidth":3},
"encoding":{
"x":{"field":"g","type":"nominal","scale":{"domain":["ctrl","KD","Ide","CH"],"paddingInner":0.34,"paddingOuter":0.44},"axis":{"title":null,"labelAngle":-45,"labelFont":"Lato","labelFontSize":9.5,"labelColor":"#000","domainColor":"#333","domainWidth":1.2,"tickColor":"#333","tickWidth":1.2,"tickSize":5,"labelPadding":2,"labelExpr":"datum.value=='KD'?'UBIAD1ᴷᴰ':datum.value=='Ide'?'UBIAD1ᴷᴰ + Idebenone':datum.value"}},
"y":{"field":"m","type":"quantitative","scale":{"domain":[0,4],"nice":false,"zero":false},"axis":{"title":["Lipid peroxidation  (ClickIT)","Fold changes over ctrl"],"titleFont":"Lato","titleFontSize":10,"titleFontWeight":"normal","titleColor":"#000","titleLineHeight":12,"titlePadding":4,"values":[0,1,2,3,4],"tickCount":20,"format":"d","labelFont":"Lato","labelFontSize":10,"labelColor":"#333","labelOverlap":false,"labelPadding":2,"domainColor":"#333","domainWidth":1.2,"tickColor":"#333","tickWidth":1.2,"tickSize":5}},
"fill":{"field":"g","type":"nominal","scale":{"domain":["ctrl","KD","Ide","CH"],"range":["#ffffff","#ffffff","#ffffff","#ff0000"]},"legend":null},
"stroke":{"field":"g","type":"nominal","scale":{"domain":["ctrl","KD","Ide","CH"],"range":["#000000","#ff0000","#22b022","#ff0000"]},"legend":null}}},
{"data":{"name":"bars"},"transform":[{"filter":"datum.p=='B2'"}],"mark":{"type":"errorbar","ticks":true,"size":12,"thickness":1.5},"encoding":{"x":{"field":"g","type":"nominal","title":null},"y":{"field":"m","type":"quantitative","title":["Lipid peroxidation  (ClickIT)","Fold changes over ctrl"]},"yError":{"field":"se"},"color":{"field":"g","type":"nominal","scale":{"domain":["ctrl","KD","Ide","CH"],"range":["#000000","#ff0000","#22b022","#ff0000"]},"legend":null}}},
{"data":{"name":"pts"},"transform":[{"filter":"datum.p=='B2'"}],"mark":{"type":"point","filled":true,"color":"#000","opacity":1,"size":60},"encoding":{"x":{"field":"g","type":"nominal","title":null},"xOffset":{"field":"r","type":"nominal","scale":{"domain":[1,2,3]}},"y":{"field":"v","type":"quantitative"},"shape":{"field":"g","type":"nominal","scale":{"domain":["ctrl","KD","Ide","CH"],"range":["circle","square","circle","square"]},"legend":null}}},
{"data":{"name":"br"},"transform":[{"filter":"datum.p=='B2'"}],"mark":{"type":"line","color":"#444","strokeWidth":1.5},"encoding":{"x":{"field":"x","type":"nominal","title":null},"y":{"field":"y","type":"quantitative"},"detail":{"field":"k","type":"nominal"},"order":{"field":"o","type":"quantitative"}}},
{"data":{"name":"tx"},"transform":[{"filter":"datum.p=='B2'"}],"mark":{"type":"text","baseline":"bottom","dy":-3,"font":"Lato","fontSize":9.5,"color":"#333"},"encoding":{"x":{"field":"x","type":"nominal","title":null,"bandPosition":1.26},"y":{"field":"y","type":"quantitative"},"text":{"field":"t"}}},
{"data":{"values":[{}]},"mark":{"type":"text","text":"//","fontSize":13,"fontWeight":"bold","stroke":"#ffffff","strokeWidth":4,"color":"#ffffff"},"encoding":{"x":{"datum":"CH","type":"nominal","bandPosition":-0.26},"y":{"datum":0,"type":"quantitative"}}},
{"data":{"values":[{}]},"mark":{"type":"text","text":"//","fontSize":13,"fontWeight":"bold","color":"#000"},"encoding":{"x":{"datum":"CH","type":"nominal","bandPosition":-0.26},"y":{"datum":0,"type":"quantitative"}}}
]}
]},
{"width":1,"height":233,"data":{"values":[]},"mark":"point"},
{"width":44,"height":17,"data":{"values":[{"t":"C"}]},"mark":{"type":"text","fontSize":16,"font":"Lato","color":"#000"},"encoding":{"text":{"field":"t"}}},
{"width":1,"height":39,"data":{"values":[]},"mark":"point"},
{"spacing":0,"bounds":"flush","resolve":{"scale":{"fill":"independent","stroke":"independent","color":"independent","shape":"independent","xOffset":"independent"}},"hconcat":[
{"width":32,"height":1,"data":{"values":[]},"mark":"point"},
{"width":100,"height":144,"layer":[
{"data":{"name":"bars"},"transform":[{"filter":"datum.p=='C1'"}],"mark":{"type":"bar","strokeWidth":2.5},"encoding":{
"x":{"field":"g","type":"nominal","scale":{"domain":["ctrl","KD"],"paddingInner":0.37,"paddingOuter":0.4},"axis":{"title":null,"labelAngle":0,"labelFont":"Lato","labelFontSize":9,"labelColor":"#000","domainColor":"#000","domainWidth":1.5,"tickColor":"#000","tickWidth":1.5,"tickSize":5,"labelPadding":6,"labelExpr":"datum.value=='KD'?'UBIAD1ᴷᴰ':datum.value"}},
"y":{"field":"m","type":"quantitative","scale":{"domain":[0,2.5],"nice":false,"zero":false},"axis":{"title":"AnnexinV+ cells","titleFont":"Lato","titleFontSize":9,"titleFontWeight":"normal","titleColor":"#000","titlePadding":5,"values":[0,0.5,1,1.5,2,2.5],"tickCount":20,"format":".1f","labelFont":"Lato","labelFontSize":9.5,"labelColor":"#333","labelOverlap":false,"labelPadding":2,"domainColor":"#000","domainWidth":1.5,"tickColor":"#000","tickWidth":1.5,"tickSize":5}},
"fill":{"field":"g","type":"nominal","scale":{"domain":["ctrl","KD"],"range":["#ffffff","#ffffff"]},"legend":null},
"stroke":{"field":"g","type":"nominal","scale":{"domain":["ctrl","KD"],"range":["#000000","#ff0000"]},"legend":null}}},
{"data":{"name":"bars"},"transform":[{"filter":"datum.p=='C1'"}],"mark":{"type":"errorbar","ticks":true,"size":14,"thickness":1.3},"encoding":{"x":{"field":"g","type":"nominal","title":null},"y":{"field":"m","type":"quantitative","title":"AnnexinV+ cells"},"yError":{"field":"se"},"color":{"field":"g","type":"nominal","scale":{"domain":["ctrl","KD"],"range":["#000000","#ff0000"]},"legend":null}}},
{"data":{"name":"pts"},"transform":[{"filter":"datum.p=='C1'"}],"mark":{"type":"point","filled":true,"color":"#000","opacity":1,"size":18},"encoding":{"x":{"field":"g","type":"nominal","title":null},"xOffset":{"field":"r","type":"nominal","scale":{"domain":[1,2,3]}},"y":{"field":"v","type":"quantitative"},"shape":{"field":"g","type":"nominal","scale":{"domain":["ctrl","KD"],"range":["circle","square"]},"legend":null}}},
{"data":{"name":"br"},"transform":[{"filter":"datum.p=='C1'"}],"mark":{"type":"line","color":"#777","strokeWidth":1.3},"encoding":{"x":{"field":"x","type":"nominal","title":null},"y":{"field":"y","type":"quantitative"},"detail":{"field":"k","type":"nominal"},"order":{"field":"o","type":"quantitative"}}},
{"data":{"name":"tx"},"transform":[{"filter":"datum.p=='C1'"}],"mark":{"type":"text","baseline":"bottom","dy":-4,"font":"Lato","fontSize":9.5,"color":"#222"},"encoding":{"x":{"field":"x","type":"nominal","title":null,"bandPosition":1.29},"y":{"field":"y","type":"quantitative"},"text":{"field":"t"}}}
]},
{"width":38,"height":1,"data":{"values":[]},"mark":"point"},
{"width":100,"height":144,"layer":[
{"data":{"name":"bars"},"transform":[{"filter":"datum.p=='C2'"}],"mark":{"type":"bar","strokeWidth":2.5},"encoding":{
"x":{"field":"g","type":"nominal","scale":{"domain":["ctrl","KD"],"paddingInner":0.37,"paddingOuter":0.4},"axis":{"title":null,"labelAngle":0,"labelFont":"Lato","labelFontSize":9,"labelColor":"#000","domainColor":"#000","domainWidth":1.5,"tickColor":"#000","tickWidth":1.5,"tickSize":5,"labelPadding":6,"labelExpr":"datum.value=='KD'?'UBIAD1ᴷᴰ':datum.value"}},
"y":{"field":"m","type":"quantitative","scale":{"domain":[0,2.5],"nice":false,"zero":false},"axis":{"title":"AnnexinV/PI+ cells","titleFont":"Lato","titleFontSize":9,"titleFontWeight":"normal","titleColor":"#000","titlePadding":5,"values":[0,0.5,1,1.5,2,2.5],"tickCount":20,"format":".1f","labelFont":"Lato","labelFontSize":9.5,"labelColor":"#333","labelOverlap":false,"labelPadding":2,"domainColor":"#000","domainWidth":1.5,"tickColor":"#000","tickWidth":1.5,"tickSize":5}},
"fill":{"field":"g","type":"nominal","scale":{"domain":["ctrl","KD"],"range":["#ffffff","#ffffff"]},"legend":null},
"stroke":{"field":"g","type":"nominal","scale":{"domain":["ctrl","KD"],"range":["#000000","#ff0000"]},"legend":null}}},
{"data":{"name":"bars"},"transform":[{"filter":"datum.p=='C2'"}],"mark":{"type":"errorbar","ticks":true,"size":14,"thickness":1.3},"encoding":{"x":{"field":"g","type":"nominal","title":null},"y":{"field":"m","type":"quantitative","title":"AnnexinV/PI+ cells"},"yError":{"field":"se"},"color":{"field":"g","type":"nominal","scale":{"domain":["ctrl","KD"],"range":["#000000","#ff0000"]},"legend":null}}},
{"data":{"name":"pts"},"transform":[{"filter":"datum.p=='C2'"}],"mark":{"type":"point","filled":true,"color":"#000","opacity":1,"size":18},"encoding":{"x":{"field":"g","type":"nominal","title":null},"xOffset":{"field":"r","type":"nominal","scale":{"domain":[1,2,3]}},"y":{"field":"v","type":"quantitative"},"shape":{"field":"g","type":"nominal","scale":{"domain":["ctrl","KD"],"range":["circle","square"]},"legend":null}}},
{"data":{"name":"br"},"transform":[{"filter":"datum.p=='C2'"}],"mark":{"type":"line","color":"#777","strokeWidth":1.3},"encoding":{"x":{"field":"x","type":"nominal","title":null},"y":{"field":"y","type":"quantitative"},"detail":{"field":"k","type":"nominal"},"order":{"field":"o","type":"quantitative"}}},
{"data":{"name":"tx"},"transform":[{"filter":"datum.p=='C2'"}],"mark":{"type":"text","baseline":"bottom","dy":-4,"font":"Lato","fontSize":9.5,"color":"#222"},"encoding":{"x":{"field":"x","type":"nominal","title":null,"bandPosition":1.29},"y":{"field":"y","type":"quantitative"},"text":{"field":"t"}}}
]},
{"width":31,"height":1,"data":{"values":[]},"mark":"point"},
{"width":100,"height":144,"layer":[
{"data":{"name":"bars"},"transform":[{"filter":"datum.p=='C3'"}],"mark":{"type":"bar","strokeWidth":2.5},"encoding":{
"x":{"field":"g","type":"nominal","scale":{"domain":["ctrl","KD"],"paddingInner":0.37,"paddingOuter":0.4},"axis":{"title":null,"labelAngle":0,"labelFont":"Lato","labelFontSize":9,"labelColor":"#000","domainColor":"#000","domainWidth":1.5,"tickColor":"#000","tickWidth":1.5,"tickSize":5,"labelPadding":6,"labelExpr":"datum.value=='KD'?'UBIAD1ᴷᴰ':datum.value"}},
"y":{"field":"m","type":"quantitative","scale":{"domain":[0,2.5],"nice":false,"zero":false},"axis":{"title":"AnnexinV+ cells","titleFont":"Lato","titleFontSize":9,"titleFontWeight":"normal","titleColor":"#000","titlePadding":5,"values":[0,0.5,1,1.5,2,2.5],"tickCount":20,"format":".1f","labelFont":"Lato","labelFontSize":9.5,"labelColor":"#333","labelOverlap":false,"labelPadding":2,"domainColor":"#000","domainWidth":1.5,"tickColor":"#000","tickWidth":1.5,"tickSize":5}},
"fill":{"field":"g","type":"nominal","scale":{"domain":["ctrl","KD"],"range":["#ffffff","#ffffff"]},"legend":null},
"stroke":{"field":"g","type":"nominal","scale":{"domain":["ctrl","KD"],"range":["#000000","#ff0000"]},"legend":null}}},
{"data":{"name":"bars"},"transform":[{"filter":"datum.p=='C3'"}],"mark":{"type":"errorbar","ticks":true,"size":14,"thickness":1.3},"encoding":{"x":{"field":"g","type":"nominal","title":null},"y":{"field":"m","type":"quantitative","title":"AnnexinV+ cells"},"yError":{"field":"se"},"color":{"field":"g","type":"nominal","scale":{"domain":["ctrl","KD"],"range":["#000000","#ff0000"]},"legend":null}}},
{"data":{"name":"pts"},"transform":[{"filter":"datum.p=='C3'"}],"mark":{"type":"point","filled":true,"color":"#000","opacity":1,"size":18},"encoding":{"x":{"field":"g","type":"nominal","title":null},"xOffset":{"field":"r","type":"nominal","scale":{"domain":[1,2,3]}},"y":{"field":"v","type":"quantitative"},"shape":{"field":"g","type":"nominal","scale":{"domain":["ctrl","KD"],"range":["circle","square"]},"legend":null}}},
{"data":{"name":"br"},"transform":[{"filter":"datum.p=='C3'"}],"mark":{"type":"line","color":"#777","strokeWidth":1.3},"encoding":{"x":{"field":"x","type":"nominal","title":null},"y":{"field":"y","type":"quantitative"},"detail":{"field":"k","type":"nominal"},"order":{"field":"o","type":"quantitative"}}},
{"data":{"name":"tx"},"transform":[{"filter":"datum.p=='C3'"}],"mark":{"type":"text","baseline":"bottom","dy":-4,"font":"Lato","fontSize":9.5,"color":"#222"},"encoding":{"x":{"field":"x","type":"nominal","title":null,"bandPosition":1.29},"y":{"field":"y","type":"quantitative"},"text":{"field":"t"}}}
]},
{"width":26,"height":1,"data":{"values":[]},"mark":"point"},
{"width":100,"height":144,"layer":[
{"data":{"name":"bars"},"transform":[{"filter":"datum.p=='C4'"}],"mark":{"type":"bar","strokeWidth":2.5},"encoding":{
"x":{"field":"g","type":"nominal","scale":{"domain":["ctrl","KD"],"paddingInner":0.37,"paddingOuter":0.4},"axis":{"title":null,"labelAngle":0,"labelFont":"Lato","labelFontSize":9,"labelColor":"#000","domainColor":"#000","domainWidth":1.5,"tickColor":"#000","tickWidth":1.5,"tickSize":5,"labelPadding":6,"labelExpr":"datum.value=='KD'?'UBIAD1ᴷᴰ':datum.value"}},
"y":{"field":"m","type":"quantitative","scale":{"domain":[0,2.5],"nice":false,"zero":false},"axis":{"title":"AnnexinV/PI+ cells","titleFont":"Lato","titleFontSize":9,"titleFontWeight":"normal","titleColor":"#000","titlePadding":5,"values":[0,0.5,1,1.5,2,2.5],"tickCount":20,"format":".1f","labelFont":"Lato","labelFontSize":9.5,"labelColor":"#333","labelOverlap":false,"labelPadding":2,"domainColor":"#000","domainWidth":1.5,"tickColor":"#000","tickWidth":1.5,"tickSize":5}},
"fill":{"field":"g","type":"nominal","scale":{"domain":["ctrl","KD"],"range":["#ffffff","#ffffff"]},"legend":null},
"stroke":{"field":"g","type":"nominal","scale":{"domain":["ctrl","KD"],"range":["#000000","#ff0000"]},"legend":null}}},
{"data":{"name":"bars"},"transform":[{"filter":"datum.p=='C4'"}],"mark":{"type":"errorbar","ticks":true,"size":14,"thickness":1.3},"encoding":{"x":{"field":"g","type":"nominal","title":null},"y":{"field":"m","type":"quantitative","title":"AnnexinV/PI+ cells"},"yError":{"field":"se"},"color":{"field":"g","type":"nominal","scale":{"domain":["ctrl","KD"],"range":["#000000","#ff0000"]},"legend":null}}},
{"data":{"name":"pts"},"transform":[{"filter":"datum.p=='C4'"}],"mark":{"type":"point","filled":true,"color":"#000","opacity":1,"size":18},"encoding":{"x":{"field":"g","type":"nominal","title":null},"xOffset":{"field":"r","type":"nominal","scale":{"domain":[1,2,3]}},"y":{"field":"v","type":"quantitative"},"shape":{"field":"g","type":"nominal","scale":{"domain":["ctrl","KD"],"range":["circle","square"]},"legend":null}}},
{"data":{"name":"br"},"transform":[{"filter":"datum.p=='C4'"}],"mark":{"type":"line","color":"#777","strokeWidth":1.3},"encoding":{"x":{"field":"x","type":"nominal","title":null},"y":{"field":"y","type":"quantitative"},"detail":{"field":"k","type":"nominal"},"order":{"field":"o","type":"quantitative"}}},
{"data":{"name":"tx"},"transform":[{"filter":"datum.p=='C4'"}],"mark":{"type":"text","baseline":"bottom","dy":-4,"font":"Lato","fontSize":9.5,"color":"#222"},"encoding":{"x":{"field":"x","type":"nominal","title":null,"bandPosition":1.29},"y":{"field":"y","type":"quantitative"},"text":{"field":"t"}}}
]},
{"width":46,"height":1,"data":{"values":[]},"mark":"point"},
{"width":100,"height":144,"layer":[
{"data":{"name":"bars"},"transform":[{"filter":"datum.p=='C5'"}],"mark":{"type":"bar","strokeWidth":2.5},"encoding":{
"x":{"field":"g","type":"nominal","scale":{"domain":["ctrl","KD"],"paddingInner":0.37,"paddingOuter":0.4},"axis":{"title":null,"labelAngle":0,"labelFont":"Lato","labelFontSize":9,"labelColor":"#000","domainColor":"#000","domainWidth":1.5,"tickColor":"#000","tickWidth":1.5,"tickSize":5,"labelPadding":6,"labelExpr":"datum.value=='KD'?'UBIAD1ᴷᴰ':datum.value"}},
"y":{"field":"m","type":"quantitative","scale":{"domain":[0,2.5],"nice":false,"zero":false},"axis":{"title":"AnnexinV+ cells","titleFont":"Lato","titleFontSize":9,"titleFontWeight":"normal","titleColor":"#000","titlePadding":5,"values":[0,0.5,1,1.5,2,2.5],"tickCount":20,"format":".1f","labelFont":"Lato","labelFontSize":9.5,"labelColor":"#333","labelOverlap":false,"labelPadding":2,"domainColor":"#000","domainWidth":1.5,"tickColor":"#000","tickWidth":1.5,"tickSize":5}},
"fill":{"field":"g","type":"nominal","scale":{"domain":["ctrl","KD"],"range":["#ffffff","#ffffff"]},"legend":null},
"stroke":{"field":"g","type":"nominal","scale":{"domain":["ctrl","KD"],"range":["#000000","#ff0000"]},"legend":null}}},
{"data":{"name":"bars"},"transform":[{"filter":"datum.p=='C5'"}],"mark":{"type":"errorbar","ticks":true,"size":14,"thickness":1.3},"encoding":{"x":{"field":"g","type":"nominal","title":null},"y":{"field":"m","type":"quantitative","title":"AnnexinV+ cells"},"yError":{"field":"se"},"color":{"field":"g","type":"nominal","scale":{"domain":["ctrl","KD"],"range":["#000000","#ff0000"]},"legend":null}}},
{"data":{"name":"pts"},"transform":[{"filter":"datum.p=='C5'"}],"mark":{"type":"point","filled":true,"color":"#000","opacity":1,"size":18},"encoding":{"x":{"field":"g","type":"nominal","title":null},"xOffset":{"field":"r","type":"nominal","scale":{"domain":[1,2,3]}},"y":{"field":"v","type":"quantitative"},"shape":{"field":"g","type":"nominal","scale":{"domain":["ctrl","KD"],"range":["circle","square"]},"legend":null}}},
{"data":{"name":"br"},"transform":[{"filter":"datum.p=='C5'"}],"mark":{"type":"line","color":"#777","strokeWidth":1.3},"encoding":{"x":{"field":"x","type":"nominal","title":null},"y":{"field":"y","type":"quantitative"},"detail":{"field":"k","type":"nominal"},"order":{"field":"o","type":"quantitative"}}},
{"data":{"name":"tx"},"transform":[{"filter":"datum.p=='C5'"}],"mark":{"type":"text","baseline":"bottom","dy":-4,"font":"Lato","fontSize":9.5,"color":"#222"},"encoding":{"x":{"field":"x","type":"nominal","title":null,"bandPosition":1.29},"y":{"field":"y","type":"quantitative"},"text":{"field":"t"}}}
]},
{"width":27,"height":1,"data":{"values":[]},"mark":"point"},
{"width":97,"height":144,"layer":[
{"data":{"name":"bars"},"transform":[{"filter":"datum.p=='C6'"}],"mark":{"type":"bar","strokeWidth":2.5},"encoding":{
"x":{"field":"g","type":"nominal","scale":{"domain":["ctrl","KD"],"paddingInner":0.37,"paddingOuter":0.4},"axis":{"title":null,"labelAngle":0,"labelFont":"Lato","labelFontSize":9,"labelColor":"#000","domainColor":"#000","domainWidth":1.5,"tickColor":"#000","tickWidth":1.5,"tickSize":5,"labelPadding":6,"labelExpr":"datum.value=='KD'?'UBIAD1ᴷᴰ':datum.value"}},
"y":{"field":"m","type":"quantitative","scale":{"domain":[0,2.5],"nice":false,"zero":false},"axis":{"title":"AnnexinV/PI+ cells","titleFont":"Lato","titleFontSize":9,"titleFontWeight":"normal","titleColor":"#000","titlePadding":5,"values":[0,0.5,1,1.5,2,2.5],"tickCount":20,"format":".1f","labelFont":"Lato","labelFontSize":9.5,"labelColor":"#333","labelOverlap":false,"labelPadding":2,"domainColor":"#000","domainWidth":1.5,"tickColor":"#000","tickWidth":1.5,"tickSize":5}},
"fill":{"field":"g","type":"nominal","scale":{"domain":["ctrl","KD"],"range":["#ffffff","#ffffff"]},"legend":null},
"stroke":{"field":"g","type":"nominal","scale":{"domain":["ctrl","KD"],"range":["#000000","#ff0000"]},"legend":null}}},
{"data":{"name":"bars"},"transform":[{"filter":"datum.p=='C6'"}],"mark":{"type":"errorbar","ticks":true,"size":14,"thickness":1.3},"encoding":{"x":{"field":"g","type":"nominal","title":null},"y":{"field":"m","type":"quantitative","title":"AnnexinV/PI+ cells"},"yError":{"field":"se"},"color":{"field":"g","type":"nominal","scale":{"domain":["ctrl","KD"],"range":["#000000","#ff0000"]},"legend":null}}},
{"data":{"name":"pts"},"transform":[{"filter":"datum.p=='C6'"}],"mark":{"type":"point","filled":true,"color":"#000","opacity":1,"size":18},"encoding":{"x":{"field":"g","type":"nominal","title":null},"xOffset":{"field":"r","type":"nominal","scale":{"domain":[1,2,3]}},"y":{"field":"v","type":"quantitative"},"shape":{"field":"g","type":"nominal","scale":{"domain":["ctrl","KD"],"range":["circle","square"]},"legend":null}}},
{"data":{"name":"br"},"transform":[{"filter":"datum.p=='C6'"}],"mark":{"type":"line","color":"#777","strokeWidth":1.3},"encoding":{"x":{"field":"x","type":"nominal","title":null},"y":{"field":"y","type":"quantitative"},"detail":{"field":"k","type":"nominal"},"order":{"field":"o","type":"quantitative"}}},
{"data":{"name":"tx"},"transform":[{"filter":"datum.p=='C6'"}],"mark":{"type":"text","baseline":"bottom","dy":-4,"font":"Lato","fontSize":9.5,"color":"#222"},"encoding":{"x":{"field":"x","type":"nominal","title":null,"bandPosition":1.29},"y":{"field":"y","type":"quantitative"},"text":{"field":"t"}}}
]}
]},
{"width":1,"height":177,"data":{"values":[]},"mark":"point"},
{"spacing":0,"bounds":"flush","hconcat":[
{"width":33,"height":1,"data":{"values":[]},"mark":"point"},
{"width":220,"height":20,"data":{"values":[{"t":"HEMa-LP"}]},"layer":[
{"mark":{"type":"rule","color":"#666","strokeWidth":1.5},"encoding":{"x":{"datum":0,"type":"quantitative","scale":{"domain":[0,1],"nice":false,"zero":false},"axis":null},"x2":{"datum":1},"y":{"datum":1,"type":"quantitative","scale":{"domain":[0,1],"nice":false,"zero":false},"axis":null}}},
{"mark":{"type":"text","font":"Lato","fontSize":13.5,"baseline":"bottom","color":"#000"},"encoding":{"x":{"datum":0.5,"type":"quantitative","axis":null},"y":{"datum":0,"type":"quantitative","axis":null},"text":{"field":"t"}}}
]},
{"width":52,"height":1,"data":{"values":[]},"mark":"point"},
{"width":223,"height":20,"data":{"values":[{"t":"SkMel28"}]},"layer":[
{"mark":{"type":"rule","color":"#666","strokeWidth":1.5},"encoding":{"x":{"datum":0,"type":"quantitative","scale":{"domain":[0,1],"nice":false,"zero":false},"axis":null},"x2":{"datum":1},"y":{"datum":1,"type":"quantitative","scale":{"domain":[0,1],"nice":false,"zero":false},"axis":null}}},
{"mark":{"type":"text","font":"Lato","fontSize":13.5,"baseline":"bottom","color":"#000"},"encoding":{"x":{"datum":0.5,"type":"quantitative","axis":null},"y":{"datum":0,"type":"quantitative","axis":null},"text":{"field":"t"}}}
]},
{"width":51,"height":1,"data":{"values":[]},"mark":"point"},
{"width":218,"height":20,"data":{"values":[{"t":"A375"}]},"layer":[
{"mark":{"type":"rule","color":"#666","strokeWidth":1.5},"encoding":{"x":{"datum":0,"type":"quantitative","scale":{"domain":[0,1],"nice":false,"zero":false},"axis":null},"x2":{"datum":1},"y":{"datum":1,"type":"quantitative","scale":{"domain":[0,1],"nice":false,"zero":false},"axis":null}}},
{"mark":{"type":"text","font":"Lato","fontSize":13.5,"baseline":"bottom","color":"#000"},"encoding":{"x":{"datum":0.55,"type":"quantitative","axis":null},"y":{"datum":0,"type":"quantitative","axis":null},"text":{"field":"t"}}}
]}
]},
{"width":1,"height":39,"data":{"values":[]},"mark":"point"},
{"width":44,"height":17,"data":{"values":[{"t":"D"}]},"mark":{"type":"text","fontSize":16,"font":"Liberation Sans","color":"#000"},"encoding":{"text":{"field":"t"}}},
{"width":1,"height":54,"data":{"values":[]},"mark":"point"},
{"spacing":0,"bounds":"flush","resolve":{"scale":{"fill":"independent","stroke":"independent","color":"independent","shape":"independent","xOffset":"independent"}},"hconcat":[
{"width":60,"height":1,"data":{"values":[]},"mark":"point"},
{"spacing":0,"bounds":"flush","resolve":{"scale":{"fill":"independent","stroke":"independent","color":"independent","shape":"independent","xOffset":"independent"}},"hconcat":[
{"width":53,"height":138,
"title":{"text":"SkMel28","font":"Liberation Sans","fontSize":13,"fontWeight":"normal","color":"#000","frame":"group","anchor":"middle","offset":26,"dx":36},
"layer":[
{"data":{"name":"bars"},"transform":[{"filter":"datum.p=='D1L'"}],"mark":{"type":"bar","strokeWidth":2},"encoding":{
"x":{"field":"g","type":"nominal","scale":{"domain":["ctrl","KDlow"],"paddingInner":0.26,"paddingOuter":0.28},"axis":{"title":null,"labelAngle":-45,"labelFont":"Liberation Sans","labelFontSize":10.5,"labelColor":"#000","domainColor":"#000","domainWidth":2,"tickColor":"#000","tickWidth":2,"tickSize":5,"labelPadding":2,"labelExpr":"datum.value=='KDlow'?'UBIAD1ᴷᴰ ᴸᵒʷ':datum.value"}},
"y":{"field":"m","type":"quantitative","scale":{"domain":[0,100],"nice":false,"zero":false},"axis":{"title":"% TUNEL-positive cells","titleFont":"Liberation Sans","titleFontSize":12.5,"titleFontWeight":"normal","titleColor":"#000","titlePadding":1,"values":[0,20,40,60,80,100],"tickCount":20,"format":"d","labelFont":"Liberation Sans","labelFontSize":12.5,"labelFontWeight":"bold","labelColor":"#000","labelOverlap":false,"labelPadding":2,"domainColor":"#000","domainWidth":2,"tickColor":"#000","tickWidth":2,"tickSize":4}},
"fill":{"field":"g","type":"nominal","scale":{"domain":["ctrl","KDlow"],"range":["#ffffff","#ffffff"]},"legend":null},
"stroke":{"field":"g","type":"nominal","scale":{"domain":["ctrl","KDlow"],"range":["#000000","#ff0000"]},"legend":null}}},
{"data":{"name":"bars"},"transform":[{"filter":"datum.p=='D1L'"}],"mark":{"type":"errorbar","ticks":true,"size":10,"thickness":1.5},"encoding":{"x":{"field":"g","type":"nominal","title":null},"y":{"field":"m","type":"quantitative","title":"% TUNEL-positive cells"},"yError":{"field":"se"},"color":{"field":"g","type":"nominal","scale":{"domain":["ctrl","KDlow"],"range":["#000000","#ff0000"]},"legend":null}}},
{"data":{"name":"pts"},"transform":[{"filter":"datum.p=='D1L'"}],"mark":{"type":"point","filled":true,"color":"#000","opacity":1,"size":35},"encoding":{"x":{"field":"g","type":"nominal","title":null},"xOffset":{"field":"r","type":"nominal","scale":{"domain":[1,2,3]}},"y":{"field":"v","type":"quantitative"},"shape":{"field":"g","type":"nominal","scale":{"domain":["ctrl","KDlow"],"range":["circle","square"]},"legend":null}}},
{"data":{"name":"br"},"transform":[{"filter":"datum.p=='D1L'"}],"mark":{"type":"line","color":"#888","strokeWidth":1.3},"encoding":{"x":{"field":"x","type":"nominal","title":null},"y":{"field":"y","type":"quantitative"},"detail":{"field":"k","type":"nominal"},"order":{"field":"o","type":"quantitative"}}},
{"data":{"name":"tx"},"transform":[{"filter":"datum.p=='D1L'"}],"mark":{"type":"text","baseline":"bottom","dy":-3,"font":"Liberation Sans","fontSize":9.5,"color":"#000"},"encoding":{"x":{"field":"x","type":"nominal","title":null,"bandPosition":1.18},"y":{"field":"y","type":"quantitative"},"text":{"field":"t"}}}
]},
{"width":77,"height":138,"layer":[
{"data":{"name":"bars"},"transform":[{"filter":"datum.p=='D1R'"}],"mark":{"type":"bar","strokeWidth":2},"encoding":{
"x":{"field":"g","type":"nominal","scale":{"domain":["ctrl","KD","Stau"],"paddingInner":0.38,"paddingOuter":0.171,"align":1},"axis":{"title":null,"labelAngle":-45,"labelFont":"Liberation Sans","labelFontSize":10.5,"labelColor":"#000","domainColor":"#000","domainWidth":2,"tickColor":"#000","tickWidth":2,"tickSize":5,"labelPadding":2,"labelExpr":"datum.value=='KD'?'UBIAD1ᴷᴰ':datum.value=='Stau'?'Staurosporine':datum.value"}},
"y":{"field":"m","type":"quantitative","scale":{"domain":[0,100],"nice":false,"zero":false},"axis":{"title":null,"labels":false,"ticks":false,"domainColor":"#000","domainWidth":2}},
"fill":{"field":"g","type":"nominal","scale":{"domain":["ctrl","KD","Stau"],"range":["#ffffff","#ffffff","#ff0000"]},"legend":null},
"stroke":{"field":"g","type":"nominal","scale":{"domain":["ctrl","KD","Stau"],"range":["#000000","#ff0000","#ff0000"]},"legend":null}}},
{"data":{"values":[{}]},"mark":{"type":"rule","strokeDash":[2,2],"color":"#777777","strokeWidth":1},"encoding":{"x":{"datum":"Stau","type":"nominal","bandPosition":-0.3},"y":{"datum":0,"type":"quantitative"},"y2":{"datum":100}}},
{"data":{"name":"bars"},"transform":[{"filter":"datum.p=='D1R'"}],"mark":{"type":"errorbar","ticks":true,"size":10,"thickness":1.5},"encoding":{"x":{"field":"g","type":"nominal","title":null},"y":{"field":"m","type":"quantitative"},"yError":{"field":"se"},"color":{"field":"g","type":"nominal","scale":{"domain":["ctrl","KD","Stau"],"range":["#000000","#ff0000","#ff8080"]},"legend":null}}},
{"data":{"name":"pts"},"transform":[{"filter":"datum.p=='D1R'"}],"mark":{"type":"point","filled":true,"color":"#000","opacity":1,"size":35},"encoding":{"x":{"field":"g","type":"nominal","title":null},"xOffset":{"field":"r","type":"nominal","scale":{"domain":[1,2,3]}},"y":{"field":"v","type":"quantitative"},"shape":{"field":"g","type":"nominal","scale":{"domain":["ctrl","KD","Stau"],"range":["triangle-up","triangle-down","diamond"]},"legend":null}}},
{"data":{"name":"br"},"transform":[{"filter":"datum.p=='D1R'"}],"mark":{"type":"line","color":"#888","strokeWidth":1.3},"encoding":{"x":{"field":"x","type":"nominal","title":null},"y":{"field":"y","type":"quantitative"},"detail":{"field":"k","type":"nominal"},"order":{"field":"o","type":"quantitative"}}},
{"data":{"name":"tx"},"transform":[{"filter":"datum.p=='D1R'"}],"mark":{"type":"text","baseline":"bottom","dy":-3,"font":"Liberation Sans","fontSize":9.5,"color":"#000"},"encoding":{"x":{"field":"x","type":"nominal","title":null,"bandPosition":1.31},"y":{"field":"y","type":"quantitative"},"text":{"field":"t"}}}
]}
]},
{"width":221,"height":1,"data":{"values":[]},"mark":"point"},
{"spacing":0,"bounds":"flush","resolve":{"scale":{"fill":"independent","stroke":"independent","color":"independent","shape":"independent","xOffset":"independent"}},"hconcat":[
{"width":53,"height":138,
"title":{"text":"A375","font":"Liberation Sans","fontSize":13,"fontWeight":"normal","color":"#000","frame":"group","anchor":"middle","offset":26,"dx":41},
"layer":[
{"data":{"name":"bars"},"transform":[{"filter":"datum.p=='D2L'"}],"mark":{"type":"bar","strokeWidth":2},"encoding":{
"x":{"field":"g","type":"nominal","scale":{"domain":["ctrl","KDlow"],"paddingInner":0.26,"paddingOuter":0.28},"axis":{"title":null,"labelAngle":-45,"labelFont":"Liberation Sans","labelFontSize":10.5,"labelColor":"#000","domainColor":"#000","domainWidth":2,"tickColor":"#000","tickWidth":2,"tickSize":5,"labelPadding":2,"labelExpr":"datum.value=='KDlow'?'UBIAD1ᴷᴰ ˡᵒʷ':datum.value"}},
"y":{"field":"m","type":"quantitative","scale":{"domain":[0,100],"nice":false,"zero":false},"axis":{"title":"% TUNEL-positive cells","titleFont":"Liberation Sans","titleFontSize":12.5,"titleFontWeight":"normal","titleColor":"#000","titlePadding":6,"values":[0,20,40,60,80,100],"tickCount":20,"format":"d","labelFont":"Liberation Sans","labelFontSize":12.5,"labelFontWeight":"bold","labelColor":"#000","labelOverlap":false,"labelPadding":2,"domainColor":"#000","domainWidth":2,"tickColor":"#000","tickWidth":2,"tickSize":4}},
"fill":{"field":"g","type":"nominal","scale":{"domain":["ctrl","KDlow"],"range":["#ffffff","#ffffff"]},"legend":null},
"stroke":{"field":"g","type":"nominal","scale":{"domain":["ctrl","KDlow"],"range":["#000000","#ff0000"]},"legend":null}}},
{"data":{"name":"bars"},"transform":[{"filter":"datum.p=='D2L'"}],"mark":{"type":"errorbar","ticks":true,"size":10,"thickness":1.5},"encoding":{"x":{"field":"g","type":"nominal","title":null},"y":{"field":"m","type":"quantitative","title":"% TUNEL-positive cells"},"yError":{"field":"se"},"color":{"field":"g","type":"nominal","scale":{"domain":["ctrl","KDlow"],"range":["#000000","#ff0000"]},"legend":null}}},
{"data":{"name":"pts"},"transform":[{"filter":"datum.p=='D2L'"}],"mark":{"type":"point","filled":true,"color":"#000","opacity":1,"size":35},"encoding":{"x":{"field":"g","type":"nominal","title":null},"xOffset":{"field":"r","type":"nominal","scale":{"domain":[1,2,3]}},"y":{"field":"v","type":"quantitative"},"shape":{"field":"g","type":"nominal","scale":{"domain":["ctrl","KDlow"],"range":["circle","square"]},"legend":null}}},
{"data":{"name":"br"},"transform":[{"filter":"datum.p=='D2L'"}],"mark":{"type":"line","color":"#888","strokeWidth":1.3},"encoding":{"x":{"field":"x","type":"nominal","title":null},"y":{"field":"y","type":"quantitative"},"detail":{"field":"k","type":"nominal"},"order":{"field":"o","type":"quantitative"}}},
{"data":{"name":"tx"},"transform":[{"filter":"datum.p=='D2L'"}],"mark":{"type":"text","baseline":"bottom","dy":-3,"font":"Liberation Sans","fontSize":9.5,"color":"#000"},"encoding":{"x":{"field":"x","type":"nominal","title":null,"bandPosition":1.18},"y":{"field":"y","type":"quantitative"},"text":{"field":"t"}}}
]},
{"width":86,"height":138,"layer":[
{"data":{"name":"bars"},"transform":[{"filter":"datum.p=='D2R'"}],"mark":{"type":"bar","strokeWidth":2},"encoding":{
"x":{"field":"g","type":"nominal","scale":{"domain":["ctrl","KD","Stau"],"paddingInner":0.38,"paddingOuter":0.344,"align":0.61},"axis":{"title":null,"labelAngle":-45,"labelFont":"Liberation Sans","labelFontSize":10.5,"labelColor":"#000","domainColor":"#000","domainWidth":2,"tickColor":"#000","tickWidth":2,"tickSize":5,"labelPadding":2,"labelExpr":"datum.value=='KD'?'UBIAD1ᴷᴰ':datum.value=='Stau'?'Staurosporine':datum.value"}},
"y":{"field":"m","type":"quantitative","scale":{"domain":[0,100],"nice":false,"zero":false},"axis":{"title":null,"labels":false,"ticks":false,"domainColor":"#000","domainWidth":2}},
"fill":{"field":"g","type":"nominal","scale":{"domain":["ctrl","KD","Stau"],"range":["#ffffff","#ffffff","#ff0000"]},"legend":null},
"stroke":{"field":"g","type":"nominal","scale":{"domain":["ctrl","KD","Stau"],"range":["#000000","#ff0000","#ff0000"]},"legend":null}}},
{"data":{"values":[{}]},"mark":{"type":"rule","strokeDash":[2,2],"color":"#777777","strokeWidth":1},"encoding":{"x":{"datum":"Stau","type":"nominal","bandPosition":-0.3},"y":{"datum":0,"type":"quantitative"},"y2":{"datum":100}}},
{"data":{"name":"bars"},"transform":[{"filter":"datum.p=='D2R'"}],"mark":{"type":"errorbar","ticks":true,"size":10,"thickness":1.5},"encoding":{"x":{"field":"g","type":"nominal","title":null},"y":{"field":"m","type":"quantitative"},"yError":{"field":"se"},"color":{"field":"g","type":"nominal","scale":{"domain":["ctrl","KD","Stau"],"range":["#000000","#ff0000","#ff8080"]},"legend":null}}},
{"data":{"name":"pts"},"transform":[{"filter":"datum.p=='D2R'"}],"mark":{"type":"point","filled":true,"color":"#000","opacity":1,"size":35},"encoding":{"x":{"field":"g","type":"nominal","title":null},"xOffset":{"field":"r","type":"nominal","scale":{"domain":[1,2,3]}},"y":{"field":"v","type":"quantitative"},"shape":{"field":"g","type":"nominal","scale":{"domain":["ctrl","KD","Stau"],"range":["triangle-up","triangle-down","diamond"]},"legend":null}}},
{"data":{"name":"br"},"transform":[{"filter":"datum.p=='D2R'"}],"mark":{"type":"line","color":"#888","strokeWidth":1.3},"encoding":{"x":{"field":"x","type":"nominal","title":null},"y":{"field":"y","type":"quantitative"},"detail":{"field":"k","type":"nominal"},"order":{"field":"o","type":"quantitative"}}},
{"data":{"name":"tx"},"transform":[{"filter":"datum.p=='D2R'"}],"mark":{"type":"text","baseline":"bottom","dy":-3,"font":"Liberation Sans","fontSize":9.5,"color":"#000"},"encoding":{"x":{"field":"x","type":"nominal","title":null,"bandPosition":1.31},"y":{"field":"y","type":"quantitative"},"text":{"field":"t"}}}
]}
]}
]}
]
}
